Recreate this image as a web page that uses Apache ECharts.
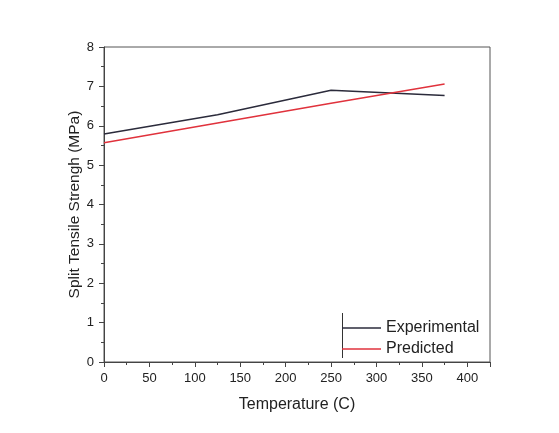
<!DOCTYPE html>
<html>
<head>
<meta charset="utf-8">
<script src="https://cdn.jsdelivr.net/npm/echarts@6/dist/echarts.min.js"></script>
<style>
  html, body { margin: 0; padding: 0; background: #ffffff; }
  #chart { width: 559px; height: 433px; }
</style>
</head>
<body>
<div id="chart"></div>
<script>
// Temperature points (C)
const temperatures = [0, 125, 250, 375];
// Split tensile strength (MPa)
const experimental = [5.79, 6.28, 6.90, 6.77];
const predicted = [5.57, 6.07, 6.57, 7.06];

const xTitle = 'Temperature (C)';
const yTitle = 'Split Tensile Strengh (MPa)';

const font = 'Liberation Sans, Arial, sans-serif';
const axisColor = '#444';

const chart = echarts.init(document.getElementById('chart'), null, { renderer: 'canvas' });

const pairs = (xs, ys) => xs.map((x, i) => [x, ys[i]]);

chart.setOption({
  animation: false,
  backgroundColor: '#ffffff',
  grid: {
    left: 104, top: 47, right: 69, bottom: 71,
    show: true, borderColor: '#555', borderWidth: 1, backgroundColor: 'transparent'
  },
  xAxis: {
    type: 'value',
    min: 0, max: 425, interval: 50,
    name: xTitle,
    nameLocation: 'middle',
    nameGap: 35,
    nameMoveOverlap: false,
    nameTextStyle: { fontFamily: font, fontSize: 16, color: '#222' },
    axisLine: { show: true, onZero: false, lineStyle: { color: axisColor, width: 1 } },
    axisTick: { show: true, inside: false, length: 5, lineStyle: { color: axisColor } },
    minorTick: { show: true, splitNumber: 2, length: 3, lineStyle: { color: axisColor } },
    axisLabel: { fontFamily: font, fontSize: 13, color: '#222', margin: 10, showMaxLabel: false },
    splitLine: { show: false }
  },
  yAxis: {
    type: 'value',
    min: 0, max: 8, interval: 1,
    name: yTitle,
    nameLocation: 'middle',
    nameGap: 21,
    nameMoveOverlap: false,
    nameTextStyle: { fontFamily: font, fontSize: 15.5, color: '#222' },
    axisLine: { show: true, lineStyle: { color: axisColor, width: 1 } },
    axisTick: { show: true, inside: false, length: 5, lineStyle: { color: axisColor } },
    minorTick: { show: true, splitNumber: 2, length: 3, lineStyle: { color: axisColor } },
    axisLabel: { fontFamily: font, fontSize: 13, color: '#222', margin: 10 },
    splitLine: { show: false }
  },
  legend: {
    orient: 'vertical',
    left: 342, top: 320,
    padding: 0,
    icon: 'rect',
    itemWidth: 39, itemHeight: 1.5, itemGap: 5,
    textStyle: { fontFamily: font, fontSize: 16, color: '#222' },
    data: ['Experimental', 'Predicted']
  },
  graphic: [{
    type: 'line',
    shape: { x1: 342.5, y1: 313, x2: 342.5, y2: 358 },
    style: { stroke: '#333', lineWidth: 1 }
  }],
  series: [
    {
      name: 'Experimental',
      type: 'line',
      symbol: 'none',
      data: pairs(temperatures, experimental),
      lineStyle: { color: '#2b2b3b', width: 1.5 },
      itemStyle: { color: '#2b2b3b' }
    },
    {
      name: 'Predicted',
      type: 'line',
      symbol: 'none',
      data: pairs(temperatures, predicted),
      lineStyle: { color: '#e0323c', width: 1.5 },
      itemStyle: { color: '#e0323c' }
    }
  ]
});
</script>
</body>
</html>
